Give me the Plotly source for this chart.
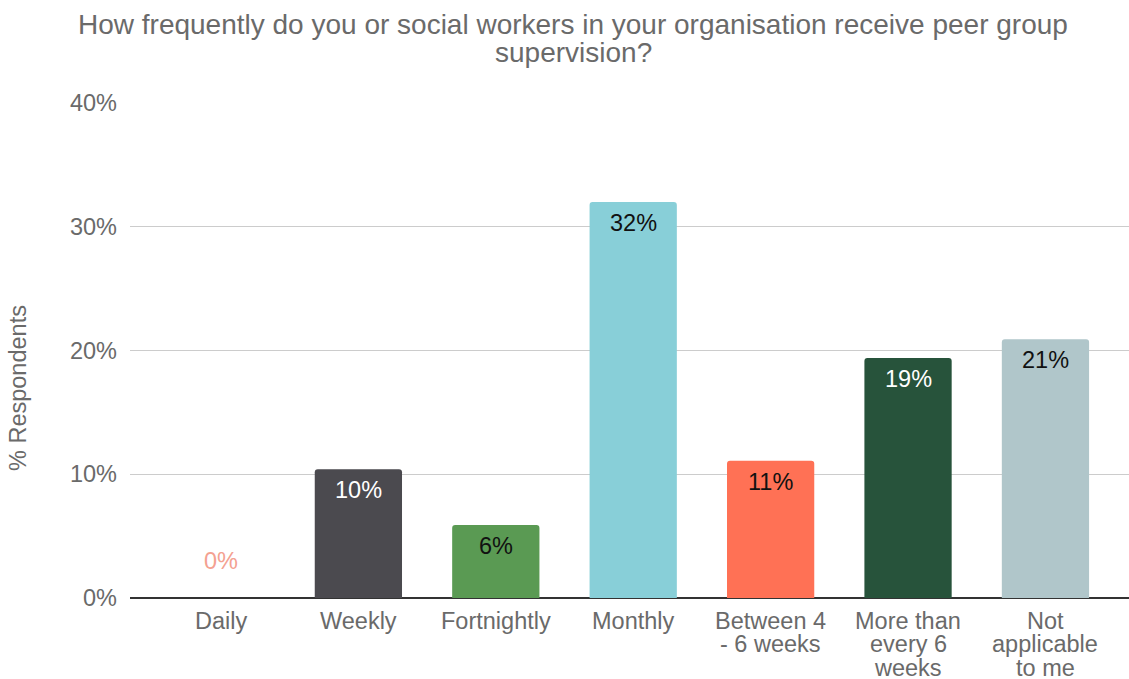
import plotly.graph_objects as go

# Survey responses: share of respondents per supervision frequency
categories = ["Daily", "Weekly", "Fortnightly", "Monthly",
              "Between 4\n- 6 weeks", "More than\nevery 6\nweeks",
              "Not\napplicable\nto me"]
percentages = [0.0, 10.4, 5.9, 32.0, 11.1, 19.4, 20.9]
bar_colors = ["#f4a191", "#4b4a4f", "#5a9a53", "#88cfd8", "#ff7155", "#27533b", "#b0c6ca"]
label_colors = ["#f4a191", "#ffffff", "#111111", "#111111", "#111111", "#ffffff", "#111111"]
y_ticks = [0, 10, 20, 30, 40]
y_tick_labels = ["0%", "10%", "20%", "30%", "40%"]
title_lines = ["How frequently do you or social workers in your organisation receive peer group",
               "supervision?"]
y_title = "% Respondents"

FONT = "Liberation Sans, Arial, sans-serif"
GREY = "#6a6a6a"
SIZE = 23.5

W, H = 1129, 679
L, R, T, B = 130, 0, 103, 81
PW, PH = W - L - R, H - T - B


def px_x(x):
    # page pixel -> paper x
    return (x - L) / PW


def px_y(y):
    # page pixel -> paper y
    return (H - B - y) / PH


fig = go.Figure(go.Bar(
    x=list(range(len(categories))),
    y=percentages,
    width=0.635,
    marker=dict(color=bar_colors, line=dict(width=0), cornerradius=3),
    hoverinfo="skip",
))

annotations = []

# value labels just inside the top of each bar (above the baseline for zero values)
for i, (v, c) in enumerate(zip(percentages, label_colors)):
    annotations.append(dict(
        x=i, y=v, xref="x", yref="y",
        text=f"{v:.0f}%", showarrow=False,
        yshift=-21 if v > 0 else 37,
        font=dict(family=FONT, size=SIZE, color=c),
    ))

# category labels, one line at a time for tight line spacing
for i, cat in enumerate(categories):
    for j, line in enumerate(cat.split("\n")):
        annotations.append(dict(
            x=i, y=0, xref="x", yref="paper",
            text=line, showarrow=False, yanchor="middle",
            borderpad=0,
            yshift=-22.5 - 23.5 * j,
            font=dict(family=FONT, size=SIZE, color=GREY),
        ))

# chart title, two centred lines
for j, line in enumerate(title_lines):
    annotations.append(dict(
        x=px_x(573), y=px_y(24 + 28 * j), xref="paper", yref="paper",
        xanchor="center", yanchor="middle",
        text=line, showarrow=False,
        font=dict(family=FONT, size=28, color=GREY),
    ))

# y-axis title
annotations.append(dict(
    x=px_x(18), y=px_y(388), xref="paper", yref="paper",
    xanchor="center", yanchor="middle", textangle=-90,
    text=y_title, showarrow=False,
    font=dict(family=FONT, size=SIZE, color=GREY),
))

fig.update_layout(
    width=W, height=H,
    margin=dict(l=L, r=R, t=T, b=B),
    paper_bgcolor="white", plot_bgcolor="white",
    showlegend=False,
    xaxis=dict(
        range=[-0.662, 6.608],
        showgrid=False, showline=False, zeroline=False,
        showticklabels=False, ticks="",
    ),
    yaxis=dict(
        range=[0, 40], tickmode="array", tickvals=y_ticks, ticktext=y_tick_labels,
        showgrid=True, gridcolor="#cccccc", gridwidth=1,
        zeroline=True, zerolinecolor="#333333", zerolinewidth=1.5,
        showline=False, ticks="", ticklabelstandoff=12,
        tickfont=dict(family=FONT, size=SIZE, color=GREY),
    ),
    annotations=annotations,
)

fig.write_html("out.html")
